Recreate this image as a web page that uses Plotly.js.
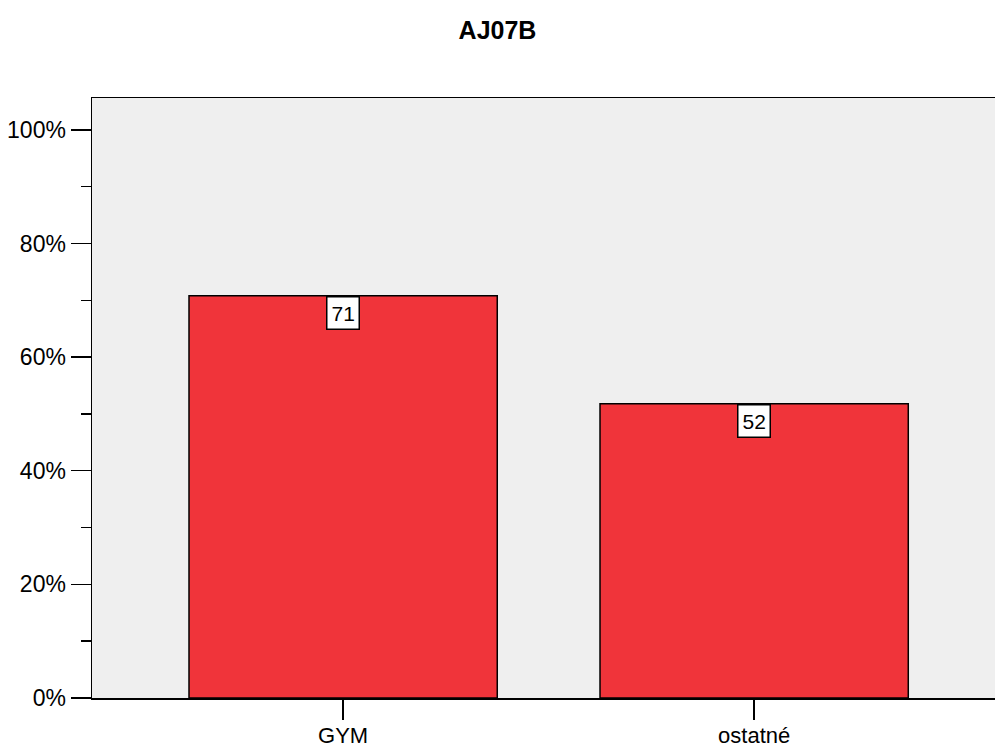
<!DOCTYPE html>
<html>
<head>
<meta charset="utf-8">
<script src="https://cdn.plot.ly/plotly-3.0.1.min.js"></script>
<style>html,body{margin:0;padding:0;background:#fff;}#chart{width:995px;height:749px;}</style>
</head>
<body>
<div id="chart"></div>
<script>
const categories = ["GYM", "ostatné"];
const percents = [70.8, 51.8];
const labels = ["71", "52"];
const yTickVals = [0, 20, 40, 60, 80, 100];
const yTickText = ["0%", "20%", "40%", "60%", "80%", "100%"];

const trace = {
  type: 'bar',
  x: [0, 1],
  y: percents,
  width: 0.75,
  marker: {color: '#F0343A', line: {color: '#000000', width: 1.5}},
  hoverinfo: 'skip'
};

const annotations = percents.map((v, i) => ({
  x: i, y: v, xref: 'x', yref: 'y',
  text: labels[i], showarrow: false,
  yanchor: 'top', xanchor: 'center',
  font: {family: 'Liberation Sans, Arial, sans-serif', size: 21, color: '#000'},
  bgcolor: '#ffffff', bordercolor: '#000000', borderwidth: 1.5, borderpad: 4
}));

const layout = {
  width: 995, height: 749,
  margin: {l: 92, r: 0, t: 98, b: 51},
  paper_bgcolor: '#ffffff',
  plot_bgcolor: '#EFEFEF',
  showlegend: false,
  title: {text: '<b>AJ07B</b>', x: 0.5, xref: 'container', y: 0.96, yref: 'container', yanchor: 'middle',
          font: {family: 'Liberation Sans, Arial, sans-serif', size: 25, color: '#000'}},
  xaxis: {
    range: [-0.611, 1.586],
    tickvals: [0, 1], ticktext: categories,
    ticks: 'outside', ticklen: 20, tickwidth: 1.5, tickcolor: '#000',
    ticklabelstandoff: -3,
    showline: true, linecolor: '#000', linewidth: 1.5, mirror: true,
    showgrid: false, zeroline: false,
    tickfont: {family: 'Liberation Sans, Arial, sans-serif', size: 22, color: '#000'}
  },
  yaxis: {
    range: [0, 105.6],
    tickvals: yTickVals, ticktext: yTickText,
    ticks: 'outside', ticklen: 20, tickwidth: 1.5, tickcolor: '#000',
    showline: true, linecolor: '#000', linewidth: 1.5,
    showgrid: false, zeroline: false,
    minor: {tickvals: [10, 30, 50, 70, 90], ticks: 'outside', ticklen: 10, tickwidth: 1.5, tickcolor: '#000', showgrid: false},
    tickfont: {family: 'Liberation Sans, Arial, sans-serif', size: 23, color: '#000'}
  },
  annotations: annotations
};

Plotly.newPlot('chart', [trace], layout, {displayModeBar: false, staticPlot: true});
</script>
</body>
</html>
